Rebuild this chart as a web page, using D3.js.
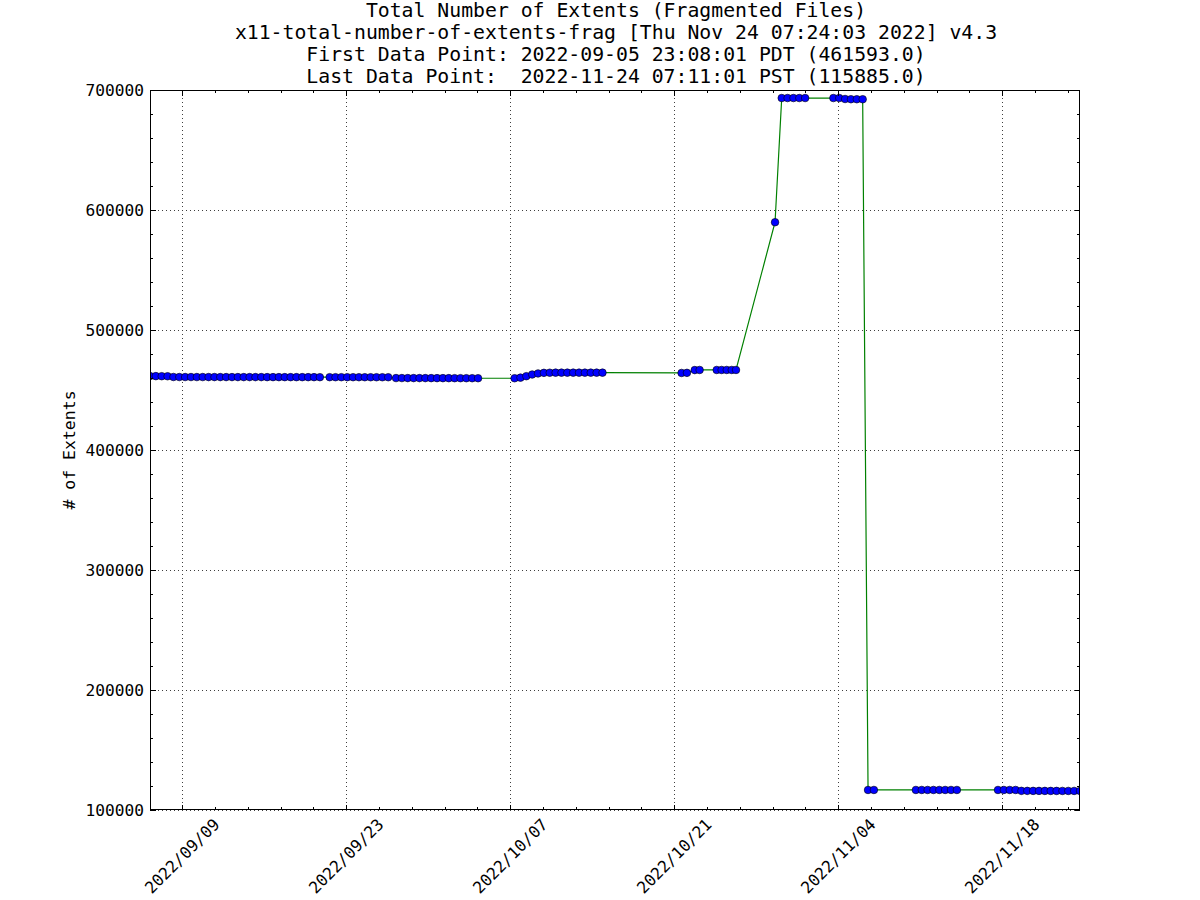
<!DOCTYPE html>
<html><head><meta charset="utf-8">
<script src="https://cdn.jsdelivr.net/npm/d3@7/dist/d3.min.js"></script>
<style>body{margin:0;background:#fff}svg{display:block}</style>
</head><body>
<svg id="c" width="1200" height="900"></svg>
<script>
const titleLines = [
  "Total Number of Extents (Fragmented Files)",
  "x11-total-number-of-extents-frag [Thu Nov 24 07:24:03 2022] v4.3",
  "First Data Point: 2022-09-05 23:08:01 PDT (461593.0)",
  "Last Data Point:  2022-11-24 07:11:01 PST (115885.0)"
];
const yLabel = "# of Extents";
const xDomain = ["2022-09-06T06:08:01Z", "2022-11-24T15:11:01Z"];
const yDomain = [100000, 700000];
const yTickValues = [100000, 200000, 300000, 400000, 500000, 600000, 700000];
const xTickDates = ["2022-09-09", "2022-09-23", "2022-10-07", "2022-10-21", "2022-11-04", "2022-11-18"];
const xTickLabels = ["2022/09/09", "2022/09/23", "2022/10/07", "2022/10/21", "2022/11/04", "2022/11/18"];

const times = [
  // run 1
  "2022-09-06T06:08:01Z","2022-09-06T18:08Z","2022-09-07T06:08Z","2022-09-07T18:08Z",
  "2022-09-08T06:08Z","2022-09-08T18:08Z","2022-09-09T06:08Z","2022-09-09T18:08Z",
  "2022-09-10T06:08Z","2022-09-10T18:08Z","2022-09-11T06:08Z","2022-09-11T18:08Z",
  "2022-09-12T06:08Z","2022-09-12T18:08Z","2022-09-13T06:08Z","2022-09-13T18:08Z",
  "2022-09-14T06:08Z","2022-09-14T18:08Z","2022-09-15T06:08Z","2022-09-15T18:08Z",
  "2022-09-16T06:08Z","2022-09-16T18:08Z","2022-09-17T06:08Z","2022-09-17T18:08Z",
  "2022-09-18T06:08Z","2022-09-18T18:08Z","2022-09-19T06:08Z","2022-09-19T18:08Z",
  "2022-09-20T06:08Z","2022-09-20T18:08Z",
  // run 2
  "2022-09-21T14:08Z","2022-09-22T02:08Z","2022-09-22T14:08Z","2022-09-23T02:08Z",
  "2022-09-23T14:08Z","2022-09-24T02:08Z","2022-09-24T14:08Z","2022-09-25T02:08Z",
  "2022-09-25T14:08Z","2022-09-26T02:08Z","2022-09-26T14:08Z",
  "2022-09-27T06:08Z","2022-09-27T18:08Z","2022-09-28T06:08Z","2022-09-28T18:08Z",
  "2022-09-29T06:08Z","2022-09-29T18:08Z","2022-09-30T06:08Z","2022-09-30T18:08Z",
  "2022-10-01T06:08Z","2022-10-01T18:08Z","2022-10-02T06:08Z","2022-10-02T18:08Z",
  "2022-10-03T06:08Z","2022-10-03T18:08Z","2022-10-04T06:08Z",
  // run 3
  "2022-10-07T09:00Z","2022-10-07T21:00Z","2022-10-08T09:00Z","2022-10-08T21:00Z",
  "2022-10-09T09:00Z","2022-10-09T21:00Z","2022-10-10T09:00Z","2022-10-10T21:00Z",
  "2022-10-11T09:00Z","2022-10-11T21:00Z","2022-10-12T09:00Z","2022-10-12T21:00Z",
  "2022-10-13T09:00Z","2022-10-13T21:00Z","2022-10-14T09:00Z","2022-10-14T21:00Z",
  // run 4
  "2022-10-21T15:00Z","2022-10-22T02:00Z","2022-10-22T18:00Z","2022-10-23T04:00Z",
  "2022-10-24T15:00Z","2022-10-25T01:00Z","2022-10-25T11:30Z","2022-10-25T21:45Z","2022-10-26T06:30Z",
  // jump
  "2022-10-29T14:30Z",
  "2022-10-30T04:10Z","2022-10-30T16:10Z","2022-10-31T04:10Z","2022-10-31T16:10Z","2022-11-01T04:10Z",
  "2022-11-03T14:00Z","2022-11-04T02:00Z","2022-11-04T14:00Z","2022-11-05T02:00Z","2022-11-05T14:00Z","2022-11-06T02:00Z",
  // drop
  "2022-11-06T13:00Z","2022-11-07T01:00Z",
  "2022-11-10T15:00Z","2022-11-11T03:00Z","2022-11-11T15:00Z","2022-11-12T03:00Z",
  "2022-11-12T15:00Z","2022-11-13T03:00Z","2022-11-13T15:00Z","2022-11-14T03:00Z",
  "2022-11-17T15:11Z","2022-11-18T03:11Z","2022-11-18T15:11Z","2022-11-19T03:11Z",
  "2022-11-19T15:11Z","2022-11-20T03:11Z","2022-11-20T15:11Z","2022-11-21T03:11Z",
  "2022-11-21T15:11Z","2022-11-22T03:11Z","2022-11-22T15:11Z","2022-11-23T03:11Z",
  "2022-11-23T15:11Z","2022-11-24T03:11Z","2022-11-24T15:11:01Z"
];
const extents = [
  // run 1
  461593, 461550, 461500, 461450,
  460850, 460800, 460800, 460790, 460780, 460780, 460770, 460770,
  460760, 460760, 460750, 460750, 460740, 460740, 460730, 460730,
  460720, 460720, 460710, 460710, 460700, 460700, 460700, 460690,
  460690, 460680,
  // run 2
  460680, 460670, 460670, 460660, 460660, 460650, 460650, 460640,
  460640, 460630, 460630,
  459950, 459940, 459930, 459920, 459910, 459900, 459890, 459880,
  459870, 459860, 459850, 459840, 459830, 459820, 459810,
  // run 3
  459800, 460300, 461500, 462900, 463800, 464300, 464400, 464450,
  464450, 464450, 464450, 464450, 464450, 464450, 464450, 464450,
  // run 4
  464200, 464300, 466600, 466700,
  466700, 466700, 466700, 466700, 466700,
  // jump
  589800,
  693300, 693300, 693300, 693300, 693300,
  693300, 693300, 692500, 692300, 692300, 692300,
  // drop
  116700, 116700,
  116700, 116700, 116700, 116700, 116700, 116700, 116700, 116700,
  116700, 116700, 116700, 116700,
  115950, 115940, 115930, 115920, 115910, 115900, 115900, 115895,
  115890, 115890, 115885
];

const L = 150, R = 1080, T = 90, B = 810;
const svg = d3.select("#c");
const x = d3.scaleUtc().domain(xDomain.map(d => new Date(d))).range([L, R]);
const y = d3.scaleLinear().domain(yDomain).range([B, T]);
const FONT = "'DejaVu Sans Mono', monospace";

const majorX = xTickDates.map(d => new Date(d + "T00:00:00Z"));
const step = 14 * 86400000 / 5;
const minorX = [];
const dom = x.domain();
for (let k = -10; k < 40; k++) {
  const t = new Date(majorX[0].getTime() + k * step);
  if (k % 5 !== 0 && t >= dom[0] && t <= dom[1]) minorX.push(t);
}
const minorY = d3.range(yDomain[0], yDomain[1] + 1, 20000).filter(v => v % 100000 !== 0);

// grid
const grid = svg.append("g").attr("stroke", "#000").attr("stroke-width", 1)
  .attr("stroke-dasharray", "1,3").attr("shape-rendering", "crispEdges").attr("opacity", 0.75);
majorX.forEach(t => grid.append("line").attr("x1", Math.round(x(t)) + 0.5).attr("x2", Math.round(x(t)) + 0.5).attr("y1", T).attr("y2", B));
yTickValues.forEach(v => grid.append("line").attr("y1", Math.round(y(v)) + 0.5).attr("y2", Math.round(y(v)) + 0.5).attr("x1", L).attr("x2", R));

// data
svg.append("clipPath").attr("id", "clip").append("rect").attr("x", L).attr("y", T).attr("width", R - L).attr("height", B - T);
const data = times.map((t, i) => ({ t: new Date(t), v: extents[i] }));
const plot = svg.append("g").attr("clip-path", "url(#clip)");
plot.append("path").datum(data)
  .attr("d", d3.line().x(d => x(d.t)).y(d => y(d.v)))
  .attr("fill", "none").attr("stroke", "#008000").attr("stroke-width", 1.2);
plot.selectAll("circle").data(data).join("circle")
  .attr("cx", d => x(d.t)).attr("cy", d => y(d.v)).attr("r", 3.8)
  .attr("fill", "#0000ff").attr("stroke", "#000").attr("stroke-width", 0.6);

// frame
svg.append("rect").attr("x", L + 0.5).attr("y", T + 0.5).attr("width", R - L - 1).attr("height", B - T - 1)
  .attr("fill", "none").attr("stroke", "#000").attr("stroke-width", 1.2).attr("shape-rendering", "crispEdges");

// ticks (inward on all sides)
const tk = svg.append("g").attr("stroke", "#000").attr("stroke-width", 1).attr("shape-rendering", "crispEdges");
function xt(t, len) {
  const px = Math.round(x(t)) + 0.5;
  tk.append("line").attr("x1", px).attr("x2", px).attr("y1", B).attr("y2", B - len);
  tk.append("line").attr("x1", px).attr("x2", px).attr("y1", T).attr("y2", T + len);
}
function yt(v, len) {
  const py = Math.round(y(v)) + 0.5;
  tk.append("line").attr("y1", py).attr("y2", py).attr("x1", L).attr("x2", L + len);
  tk.append("line").attr("y1", py).attr("y2", py).attr("x1", R).attr("x2", R - len);
}
majorX.forEach(t => xt(t, 5.5));
minorX.forEach(t => xt(t, 2.8));
yTickValues.forEach(v => yt(v, 5.5));
minorY.forEach(v => yt(v, 2.8));

// y tick labels
svg.append("g").selectAll("text").data(yTickValues).join("text")
  .attr("x", L - 6).attr("y", d => y(d)).attr("dy", "0.35em")
  .attr("text-anchor", "end").attr("font-family", FONT).attr("font-size", 16.2).attr("fill", "#000")
  .text(d => String(d));

// x tick labels rotated 45
svg.append("g").selectAll("text").data(majorX).join("text")
  .attr("transform", d => `translate(${x(d)},856) rotate(-45)`)
  .attr("text-anchor", "middle").attr("dy", "0.35em")
  .attr("font-family", FONT).attr("font-size", 16.2).attr("fill", "#000")
  .text((d, i) => xTickLabels[i]);

// y label
svg.append("text").attr("transform", `translate(75,${(T + B) / 2}) rotate(-90)`)
  .attr("text-anchor", "middle").attr("font-family", FONT).attr("font-size", 16.5).attr("fill", "#000")
  .text(yLabel);

// title
const baselines = [17, 39, 61, 83];
svg.append("g").selectAll("text").data(titleLines).join("text")
  .attr("x", (L + R) / 2 + 1).attr("y", (d, i) => baselines[i])
  .attr("text-anchor", "middle").attr("font-family", FONT).attr("font-size", 19.8).attr("fill", "#000")
  .style("white-space", "pre").attr("xml:space", "preserve")
  .text(d => d);
</script>
</body></html>
